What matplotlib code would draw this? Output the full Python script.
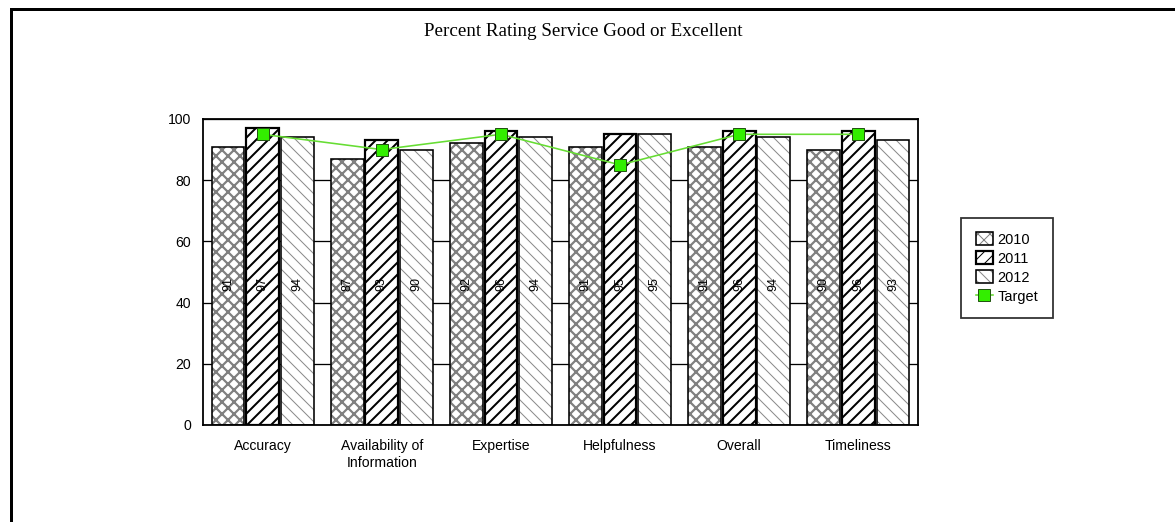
import numpy as np
import matplotlib
matplotlib.use("Agg")
import matplotlib.pyplot as plt
from matplotlib.patches import Rectangle

categories = ["Accuracy", "Availability of\nInformation", "Expertise",
              "Helpfulness", "Overall", "Timeliness"]
years = ["2010", "2011", "2012"]
vals_2010 = [91, 87, 92, 91, 91, 90]
vals_2011 = [97, 93, 96, 95, 96, 96]
vals_2012 = [94, 90, 94, 95, 94, 93]
target = [95, 90, 95, 85, 95, 95]
yticks = [0, 20, 40, 60, 80, 100]

plt.rcParams["font.family"] = ["Liberation Sans", "DejaVu Sans"]

# dpi 72 so that points == pixels
fig = plt.figure(figsize=(1175 / 72, 522 / 72), dpi=72)
ax = fig.add_axes([203 / 1175, 1 - 425 / 522, 715 / 1175, 306 / 522])

# figure border (only top/left visible in the reference)
fig.patches.append(Rectangle((11 / 1175, -0.05), 1.2, 1.05 - 9 / 522,
                             transform=fig.transFigure, fill=False,
                             edgecolor="black", lw=3, zorder=10))

x = np.arange(len(categories))
w = 0.275
offs = [-0.29, 0.0, 0.29]
styles = [  # hatch, hatch colour, hatch lw, edge lw
    ("xx", "#808080", 2.2, 1.6),
    ("//", "black", 2.0, 2.2),
    ("\\\\", "#8a8a8a", 1.0, 1.6),
]
series = [vals_2010, vals_2011, vals_2012]
handles = []
for vals, off, (h, hc, hlw, elw), yr in zip(series, offs, styles, years):
    with plt.rc_context({"hatch.linewidth": hlw}):
        hb = ax.bar(x + off, vals, w, color="white", edgecolor=hc, hatch=h,
                    linewidth=0, zorder=2)
    for p in hb:
        if hasattr(p, "set_hatch_linewidth"):
            p.set_hatch_linewidth(hlw)
    eb = ax.bar(x + off, vals, w, fill=False, edgecolor="black",
                linewidth=elw, zorder=3)
    for xi, v in zip(x + off, vals):
        ax.text(xi, 46, str(v), rotation=90, ha="center", va="center",
                fontsize=12.5, color="black", zorder=4)
    handles.append((hb[0], eb[0]))

tl, = ax.plot(x, target, color="#66dd33", lw=1.6, marker="s", ms=12,
              markerfacecolor="#33ee00", markeredgecolor="#225511",
              markeredgewidth=1.0, zorder=5)
handles.append(tl)

ax.set_xlim(-0.5, 5.5)
ax.set_ylim(0, 100)
ax.set_yticks(yticks)
ax.set_xticks(x)
ax.set_xticklabels(categories, fontsize=14, linespacing=1.25)
ax.tick_params(axis="both", length=0, labelsize=14)
ax.tick_params(axis="y", pad=12)
ax.tick_params(axis="x", pad=14)
ax.yaxis.grid(True, color="black", lw=1.3, zorder=0)
ax.set_axisbelow(True)
for s in ax.spines.values():
    s.set_linewidth(1.8)

leg = fig.legend(handles, years + ["Target"], loc="center",
                 bbox_to_anchor=(1007 / 1175, 1 - 268 / 522),
                 fontsize=14.5, frameon=True, fancybox=False,
                 handlelength=1.2, handleheight=1.0, handletextpad=0.3,
                 labelspacing=0.32, borderpad=1.0, borderaxespad=0)
leg.get_frame().set_edgecolor("black")
leg.get_frame().set_linewidth(1.8)

fig.text(583 / 1175, 1 - 31 / 522, "Percent Rating Service Good or Excellent",
         ha="center", va="center", fontsize=19,
         family=["Liberation Serif", "DejaVu Serif"])

fig.savefig("out.png", dpi=72)
